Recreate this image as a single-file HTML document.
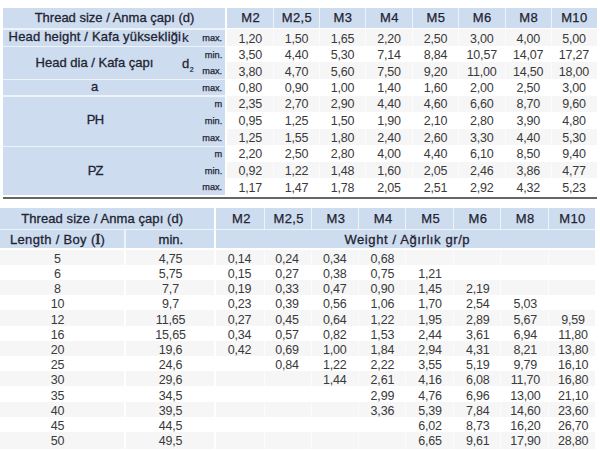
<!DOCTYPE html>
<html><head><meta charset="utf-8"><style>
*{margin:0;padding:0;box-sizing:border-box}
html,body{width:600px;height:450px;overflow:hidden;background:#fff}
body{position:relative;font-family:"Liberation Sans",sans-serif}
.b{position:absolute}
.t{position:absolute;white-space:nowrap;line-height:0;height:0;transform:translateY(-0.3465em)}
.lh{transform:translateY(calc(-0.3465em + 1px));font-size:13px;color:#1e2430;-webkit-text-stroke:0.3px #1e2430}
.kk{transform:translateY(calc(-0.3465em - 0.3px));font-size:13.5px;-webkit-text-stroke:0.15px #1e2430;color:#1e2430}
.mh{letter-spacing:0.4px;-webkit-text-stroke:0.25px #1e2430}
.sm{font-size:9.2px;color:#1e2430;-webkit-text-stroke:0.25px #1e2430}
.dd{font-size:12.5px;color:#3a3a3a;letter-spacing:-0.2px}
.sub{font-size:7px;position:relative;top:4.3px;margin-left:0.5px;-webkit-text-stroke:0.2px #1e2430}
</style></head>
<body>
<div class="b" style="left:3px;top:8px;width:221.5px;height:186.6px;background:#eef3fa"></div>
<div class="b" style="left:3px;top:8px;width:221.5px;height:20.3px;background:#cedcf0"></div>
<div class="b" style="left:227px;top:8px;width:369.5px;height:19.8px;background:#cedcf0"></div>
<div class="b" style="left:273.0px;top:8px;width:1.0px;height:19.8px;background:#eef3fa"></div>
<div class="b" style="left:319.0px;top:8px;width:1.0px;height:19.8px;background:#eef3fa"></div>
<div class="b" style="left:365.0px;top:8px;width:1.0px;height:19.8px;background:#eef3fa"></div>
<div class="b" style="left:412.0px;top:8px;width:1.0px;height:19.8px;background:#eef3fa"></div>
<div class="b" style="left:458.0px;top:8px;width:1.0px;height:19.8px;background:#eef3fa"></div>
<div class="b" style="left:504.5px;top:8px;width:1.0px;height:19.8px;background:#eef3fa"></div>
<div class="b" style="left:550.8px;top:8px;width:1.0px;height:19.8px;background:#eef3fa"></div>
<div class="b" style="left:3px;top:29.5px;width:221.5px;height:16.0px;background:#cedcf0"></div>
<div class="b" style="left:3px;top:46.5px;width:221.5px;height:32.3px;background:#cedcf0"></div>
<div class="b" style="left:3px;top:79.8px;width:221.5px;height:15.7px;background:#cedcf0"></div>
<div class="b" style="left:3px;top:96.5px;width:221.5px;height:49.0px;background:#cedcf0"></div>
<div class="b" style="left:3px;top:146.7px;width:221.5px;height:47.9px;background:#cedcf0"></div>
<div class="b" style="left:227px;top:29.3px;width:369.5px;height:16.55px;background:#f6f6f6"></div>
<div class="b" style="left:273.0px;top:29.3px;width:1.0px;height:16.55px;background:#fcfcfc"></div>
<div class="b" style="left:319.0px;top:29.3px;width:1.0px;height:16.55px;background:#fcfcfc"></div>
<div class="b" style="left:365.0px;top:29.3px;width:1.0px;height:16.55px;background:#fcfcfc"></div>
<div class="b" style="left:412.0px;top:29.3px;width:1.0px;height:16.55px;background:#fcfcfc"></div>
<div class="b" style="left:458.0px;top:29.3px;width:1.0px;height:16.55px;background:#fcfcfc"></div>
<div class="b" style="left:504.5px;top:29.3px;width:1.0px;height:16.55px;background:#fcfcfc"></div>
<div class="b" style="left:550.8px;top:29.3px;width:1.0px;height:16.55px;background:#fcfcfc"></div>
<div class="b" style="left:227px;top:62.4px;width:369.5px;height:16.55px;background:#f6f6f6"></div>
<div class="b" style="left:273.0px;top:62.4px;width:1.0px;height:16.55px;background:#fcfcfc"></div>
<div class="b" style="left:319.0px;top:62.4px;width:1.0px;height:16.55px;background:#fcfcfc"></div>
<div class="b" style="left:365.0px;top:62.4px;width:1.0px;height:16.55px;background:#fcfcfc"></div>
<div class="b" style="left:412.0px;top:62.4px;width:1.0px;height:16.55px;background:#fcfcfc"></div>
<div class="b" style="left:458.0px;top:62.4px;width:1.0px;height:16.55px;background:#fcfcfc"></div>
<div class="b" style="left:504.5px;top:62.4px;width:1.0px;height:16.55px;background:#fcfcfc"></div>
<div class="b" style="left:550.8px;top:62.4px;width:1.0px;height:16.55px;background:#fcfcfc"></div>
<div class="b" style="left:227px;top:95.5px;width:369.5px;height:16.55px;background:#f6f6f6"></div>
<div class="b" style="left:273.0px;top:95.5px;width:1.0px;height:16.55px;background:#fcfcfc"></div>
<div class="b" style="left:319.0px;top:95.5px;width:1.0px;height:16.55px;background:#fcfcfc"></div>
<div class="b" style="left:365.0px;top:95.5px;width:1.0px;height:16.55px;background:#fcfcfc"></div>
<div class="b" style="left:412.0px;top:95.5px;width:1.0px;height:16.55px;background:#fcfcfc"></div>
<div class="b" style="left:458.0px;top:95.5px;width:1.0px;height:16.55px;background:#fcfcfc"></div>
<div class="b" style="left:504.5px;top:95.5px;width:1.0px;height:16.55px;background:#fcfcfc"></div>
<div class="b" style="left:550.8px;top:95.5px;width:1.0px;height:16.55px;background:#fcfcfc"></div>
<div class="b" style="left:227px;top:128.6px;width:369.5px;height:16.55px;background:#f6f6f6"></div>
<div class="b" style="left:273.0px;top:128.6px;width:1.0px;height:16.55px;background:#fcfcfc"></div>
<div class="b" style="left:319.0px;top:128.6px;width:1.0px;height:16.55px;background:#fcfcfc"></div>
<div class="b" style="left:365.0px;top:128.6px;width:1.0px;height:16.55px;background:#fcfcfc"></div>
<div class="b" style="left:412.0px;top:128.6px;width:1.0px;height:16.55px;background:#fcfcfc"></div>
<div class="b" style="left:458.0px;top:128.6px;width:1.0px;height:16.55px;background:#fcfcfc"></div>
<div class="b" style="left:504.5px;top:128.6px;width:1.0px;height:16.55px;background:#fcfcfc"></div>
<div class="b" style="left:550.8px;top:128.6px;width:1.0px;height:16.55px;background:#fcfcfc"></div>
<div class="b" style="left:227px;top:161.7px;width:369.5px;height:16.55px;background:#f6f6f6"></div>
<div class="b" style="left:273.0px;top:161.7px;width:1.0px;height:16.55px;background:#fcfcfc"></div>
<div class="b" style="left:319.0px;top:161.7px;width:1.0px;height:16.55px;background:#fcfcfc"></div>
<div class="b" style="left:365.0px;top:161.7px;width:1.0px;height:16.55px;background:#fcfcfc"></div>
<div class="b" style="left:412.0px;top:161.7px;width:1.0px;height:16.55px;background:#fcfcfc"></div>
<div class="b" style="left:458.0px;top:161.7px;width:1.0px;height:16.55px;background:#fcfcfc"></div>
<div class="b" style="left:504.5px;top:161.7px;width:1.0px;height:16.55px;background:#fcfcfc"></div>
<div class="b" style="left:550.8px;top:161.7px;width:1.0px;height:16.55px;background:#fcfcfc"></div>
<div class="b" style="left:3px;top:197.1px;width:594px;height:1.8px;background:#666666"></div>
<div class="b" style="left:0px;top:207.6px;width:214px;height:40.8px;background:#eef3fa"></div>
<div class="b" style="left:216.4px;top:207.6px;width:378.6px;height:40.8px;background:#eef3fa"></div>
<div class="b" style="left:0px;top:207.6px;width:214px;height:21.0px;background:#cedcf0"></div>
<div class="b" style="left:216.4px;top:207.6px;width:378.6px;height:21.0px;background:#cedcf0"></div>
<div class="b" style="left:263.5px;top:207.6px;width:1.0px;height:21.0px;background:#eef3fa"></div>
<div class="b" style="left:311.0px;top:207.6px;width:1.0px;height:21.0px;background:#eef3fa"></div>
<div class="b" style="left:358.0px;top:207.6px;width:1.0px;height:21.0px;background:#eef3fa"></div>
<div class="b" style="left:405.0px;top:207.6px;width:1.0px;height:21.0px;background:#eef3fa"></div>
<div class="b" style="left:452.5px;top:207.6px;width:1.0px;height:21.0px;background:#eef3fa"></div>
<div class="b" style="left:499.8px;top:207.6px;width:1.0px;height:21.0px;background:#eef3fa"></div>
<div class="b" style="left:547.5px;top:207.6px;width:1.0px;height:21.0px;background:#eef3fa"></div>
<div class="b" style="left:0px;top:230.4px;width:124px;height:18.0px;background:#cedcf0"></div>
<div class="b" style="left:125.7px;top:230.4px;width:88.3px;height:18.0px;background:#cedcf0"></div>
<div class="b" style="left:216.4px;top:230.4px;width:378.6px;height:18.0px;background:#cedcf0"></div>
<div class="b" style="left:0px;top:249.6px;width:124px;height:15.2px;background:#f6f6f6"></div>
<div class="b" style="left:125.7px;top:249.6px;width:88.3px;height:15.2px;background:#f6f6f6"></div>
<div class="b" style="left:216.4px;top:249.6px;width:378.6px;height:15.2px;background:#f6f6f6"></div>
<div class="b" style="left:263.5px;top:249.6px;width:1.0px;height:15.2px;background:#fcfcfc"></div>
<div class="b" style="left:311.0px;top:249.6px;width:1.0px;height:15.2px;background:#fcfcfc"></div>
<div class="b" style="left:358.0px;top:249.6px;width:1.0px;height:15.2px;background:#fcfcfc"></div>
<div class="b" style="left:405.0px;top:249.6px;width:1.0px;height:15.2px;background:#fcfcfc"></div>
<div class="b" style="left:452.5px;top:249.6px;width:1.0px;height:15.2px;background:#fcfcfc"></div>
<div class="b" style="left:499.8px;top:249.6px;width:1.0px;height:15.2px;background:#fcfcfc"></div>
<div class="b" style="left:547.5px;top:249.6px;width:1.0px;height:15.2px;background:#fcfcfc"></div>
<div class="b" style="left:0px;top:280.0px;width:124px;height:15.2px;background:#f6f6f6"></div>
<div class="b" style="left:125.7px;top:280.0px;width:88.3px;height:15.2px;background:#f6f6f6"></div>
<div class="b" style="left:216.4px;top:280.0px;width:378.6px;height:15.2px;background:#f6f6f6"></div>
<div class="b" style="left:263.5px;top:280.0px;width:1.0px;height:15.2px;background:#fcfcfc"></div>
<div class="b" style="left:311.0px;top:280.0px;width:1.0px;height:15.2px;background:#fcfcfc"></div>
<div class="b" style="left:358.0px;top:280.0px;width:1.0px;height:15.2px;background:#fcfcfc"></div>
<div class="b" style="left:405.0px;top:280.0px;width:1.0px;height:15.2px;background:#fcfcfc"></div>
<div class="b" style="left:452.5px;top:280.0px;width:1.0px;height:15.2px;background:#fcfcfc"></div>
<div class="b" style="left:499.8px;top:280.0px;width:1.0px;height:15.2px;background:#fcfcfc"></div>
<div class="b" style="left:547.5px;top:280.0px;width:1.0px;height:15.2px;background:#fcfcfc"></div>
<div class="b" style="left:0px;top:310.4px;width:124px;height:15.2px;background:#f6f6f6"></div>
<div class="b" style="left:125.7px;top:310.4px;width:88.3px;height:15.2px;background:#f6f6f6"></div>
<div class="b" style="left:216.4px;top:310.4px;width:378.6px;height:15.2px;background:#f6f6f6"></div>
<div class="b" style="left:263.5px;top:310.4px;width:1.0px;height:15.2px;background:#fcfcfc"></div>
<div class="b" style="left:311.0px;top:310.4px;width:1.0px;height:15.2px;background:#fcfcfc"></div>
<div class="b" style="left:358.0px;top:310.4px;width:1.0px;height:15.2px;background:#fcfcfc"></div>
<div class="b" style="left:405.0px;top:310.4px;width:1.0px;height:15.2px;background:#fcfcfc"></div>
<div class="b" style="left:452.5px;top:310.4px;width:1.0px;height:15.2px;background:#fcfcfc"></div>
<div class="b" style="left:499.8px;top:310.4px;width:1.0px;height:15.2px;background:#fcfcfc"></div>
<div class="b" style="left:547.5px;top:310.4px;width:1.0px;height:15.2px;background:#fcfcfc"></div>
<div class="b" style="left:0px;top:340.8px;width:124px;height:15.2px;background:#f6f6f6"></div>
<div class="b" style="left:125.7px;top:340.8px;width:88.3px;height:15.2px;background:#f6f6f6"></div>
<div class="b" style="left:216.4px;top:340.8px;width:378.6px;height:15.2px;background:#f6f6f6"></div>
<div class="b" style="left:263.5px;top:340.8px;width:1.0px;height:15.2px;background:#fcfcfc"></div>
<div class="b" style="left:311.0px;top:340.8px;width:1.0px;height:15.2px;background:#fcfcfc"></div>
<div class="b" style="left:358.0px;top:340.8px;width:1.0px;height:15.2px;background:#fcfcfc"></div>
<div class="b" style="left:405.0px;top:340.8px;width:1.0px;height:15.2px;background:#fcfcfc"></div>
<div class="b" style="left:452.5px;top:340.8px;width:1.0px;height:15.2px;background:#fcfcfc"></div>
<div class="b" style="left:499.8px;top:340.8px;width:1.0px;height:15.2px;background:#fcfcfc"></div>
<div class="b" style="left:547.5px;top:340.8px;width:1.0px;height:15.2px;background:#fcfcfc"></div>
<div class="b" style="left:0px;top:371.2px;width:124px;height:15.2px;background:#f6f6f6"></div>
<div class="b" style="left:125.7px;top:371.2px;width:88.3px;height:15.2px;background:#f6f6f6"></div>
<div class="b" style="left:216.4px;top:371.2px;width:378.6px;height:15.2px;background:#f6f6f6"></div>
<div class="b" style="left:263.5px;top:371.2px;width:1.0px;height:15.2px;background:#fcfcfc"></div>
<div class="b" style="left:311.0px;top:371.2px;width:1.0px;height:15.2px;background:#fcfcfc"></div>
<div class="b" style="left:358.0px;top:371.2px;width:1.0px;height:15.2px;background:#fcfcfc"></div>
<div class="b" style="left:405.0px;top:371.2px;width:1.0px;height:15.2px;background:#fcfcfc"></div>
<div class="b" style="left:452.5px;top:371.2px;width:1.0px;height:15.2px;background:#fcfcfc"></div>
<div class="b" style="left:499.8px;top:371.2px;width:1.0px;height:15.2px;background:#fcfcfc"></div>
<div class="b" style="left:547.5px;top:371.2px;width:1.0px;height:15.2px;background:#fcfcfc"></div>
<div class="b" style="left:0px;top:401.6px;width:124px;height:15.2px;background:#f6f6f6"></div>
<div class="b" style="left:125.7px;top:401.6px;width:88.3px;height:15.2px;background:#f6f6f6"></div>
<div class="b" style="left:216.4px;top:401.6px;width:378.6px;height:15.2px;background:#f6f6f6"></div>
<div class="b" style="left:263.5px;top:401.6px;width:1.0px;height:15.2px;background:#fcfcfc"></div>
<div class="b" style="left:311.0px;top:401.6px;width:1.0px;height:15.2px;background:#fcfcfc"></div>
<div class="b" style="left:358.0px;top:401.6px;width:1.0px;height:15.2px;background:#fcfcfc"></div>
<div class="b" style="left:405.0px;top:401.6px;width:1.0px;height:15.2px;background:#fcfcfc"></div>
<div class="b" style="left:452.5px;top:401.6px;width:1.0px;height:15.2px;background:#fcfcfc"></div>
<div class="b" style="left:499.8px;top:401.6px;width:1.0px;height:15.2px;background:#fcfcfc"></div>
<div class="b" style="left:547.5px;top:401.6px;width:1.0px;height:15.2px;background:#fcfcfc"></div>
<div class="b" style="left:0px;top:432.0px;width:124px;height:17.0px;background:#f6f6f6"></div>
<div class="b" style="left:125.7px;top:432.0px;width:88.3px;height:17.0px;background:#f6f6f6"></div>
<div class="b" style="left:216.4px;top:432.0px;width:378.6px;height:17.0px;background:#f6f6f6"></div>
<div class="b" style="left:263.5px;top:432.0px;width:1.0px;height:17.0px;background:#fcfcfc"></div>
<div class="b" style="left:311.0px;top:432.0px;width:1.0px;height:17.0px;background:#fcfcfc"></div>
<div class="b" style="left:358.0px;top:432.0px;width:1.0px;height:17.0px;background:#fcfcfc"></div>
<div class="b" style="left:405.0px;top:432.0px;width:1.0px;height:17.0px;background:#fcfcfc"></div>
<div class="b" style="left:452.5px;top:432.0px;width:1.0px;height:17.0px;background:#fcfcfc"></div>
<div class="b" style="left:499.8px;top:432.0px;width:1.0px;height:17.0px;background:#fcfcfc"></div>
<div class="b" style="left:547.5px;top:432.0px;width:1.0px;height:17.0px;background:#fcfcfc"></div>
<div class="t lh" style="left:14.5px;width:200px;top:22px;text-align:center">Thread size / Anma çapı (d)</div>
<div class="t lh mh" style="left:150.75px;width:200px;top:22.2px;text-align:center">M2</div>
<div class="t lh mh" style="left:197.0px;width:200px;top:22.2px;text-align:center">M2,5</div>
<div class="t lh mh" style="left:243.0px;width:200px;top:22.2px;text-align:center">M3</div>
<div class="t lh mh" style="left:289.5px;width:200px;top:22.2px;text-align:center">M4</div>
<div class="t lh mh" style="left:336.0px;width:200px;top:22.2px;text-align:center">M5</div>
<div class="t lh mh" style="left:382.25px;width:200px;top:22.2px;text-align:center">M6</div>
<div class="t lh mh" style="left:428.65px;width:200px;top:22.2px;text-align:center">M8</div>
<div class="t lh mh" style="left:474.4px;width:200px;top:22.2px;text-align:center">M10</div>
<div class="t lh" style="left:8.6px;top:41px"><span style="letter-spacing:0.17px">Head height / Kafa yüksekliği</span></div>
<div class="t kk" style="left:182.0px;top:42.6px">k</div>
<div class="t lh" style="left:182px;top:67.5px">d<span class="sub">2</span></div>
<div class="t lh" style="left:-5.5px;width:200px;top:67px;text-align:center">Head dia / Kafa çapı</div>
<div class="t lh" style="left:-5.5px;width:200px;top:91px;text-align:center">a</div>
<div class="t lh" style="left:-5.0px;width:200px;top:124px;text-align:center"><span style="letter-spacing:-0.9px">PH</span></div>
<div class="t lh" style="left:-4.900000000000006px;width:200px;top:174.6px;text-align:center"><span style="letter-spacing:-0.9px">PZ</span></div>
<div class="t sm" style="left:22.19999999999999px;width:200px;top:41.2px;text-align:right">max.</div>
<div class="t sm" style="left:22.19999999999999px;width:200px;top:57.9px;text-align:right">min.</div>
<div class="t sm" style="left:22.19999999999999px;width:200px;top:74.3px;text-align:right">max.</div>
<div class="t sm" style="left:22.19999999999999px;width:200px;top:90.5px;text-align:right">max.</div>
<div class="t sm" style="left:22.19999999999999px;width:200px;top:107.0px;text-align:right">m</div>
<div class="t sm" style="left:22.19999999999999px;width:200px;top:123.9px;text-align:right">min.</div>
<div class="t sm" style="left:22.19999999999999px;width:200px;top:140.5px;text-align:right">max.</div>
<div class="t sm" style="left:22.19999999999999px;width:200px;top:157.1px;text-align:right">m</div>
<div class="t sm" style="left:22.19999999999999px;width:200px;top:173.7px;text-align:right">min.</div>
<div class="t sm" style="left:22.19999999999999px;width:200px;top:190.2px;text-align:right">max.</div>
<div class="t dd" style="left:150.25px;width:200px;top:42.5px;text-align:center">1,20</div>
<div class="t dd" style="left:196.5px;width:200px;top:42.5px;text-align:center">1,50</div>
<div class="t dd" style="left:242.5px;width:200px;top:42.5px;text-align:center">1,65</div>
<div class="t dd" style="left:289.0px;width:200px;top:42.5px;text-align:center">2,20</div>
<div class="t dd" style="left:335.5px;width:200px;top:42.5px;text-align:center">2,50</div>
<div class="t dd" style="left:381.75px;width:200px;top:42.5px;text-align:center">3,00</div>
<div class="t dd" style="left:428.15px;width:200px;top:42.5px;text-align:center">4,00</div>
<div class="t dd" style="left:473.9px;width:200px;top:42.5px;text-align:center">5,00</div>
<div class="t dd" style="left:150.25px;width:200px;top:59.2px;text-align:center">3,50</div>
<div class="t dd" style="left:196.5px;width:200px;top:59.2px;text-align:center">4,40</div>
<div class="t dd" style="left:242.5px;width:200px;top:59.2px;text-align:center">5,30</div>
<div class="t dd" style="left:289.0px;width:200px;top:59.2px;text-align:center">7,14</div>
<div class="t dd" style="left:335.5px;width:200px;top:59.2px;text-align:center">8,84</div>
<div class="t dd" style="left:381.75px;width:200px;top:59.2px;text-align:center">10,57</div>
<div class="t dd" style="left:428.15px;width:200px;top:59.2px;text-align:center">14,07</div>
<div class="t dd" style="left:473.9px;width:200px;top:59.2px;text-align:center">17,27</div>
<div class="t dd" style="left:150.25px;width:200px;top:75.6px;text-align:center">3,80</div>
<div class="t dd" style="left:196.5px;width:200px;top:75.6px;text-align:center">4,70</div>
<div class="t dd" style="left:242.5px;width:200px;top:75.6px;text-align:center">5,60</div>
<div class="t dd" style="left:289.0px;width:200px;top:75.6px;text-align:center">7,50</div>
<div class="t dd" style="left:335.5px;width:200px;top:75.6px;text-align:center">9,20</div>
<div class="t dd" style="left:381.75px;width:200px;top:75.6px;text-align:center">11,00</div>
<div class="t dd" style="left:428.15px;width:200px;top:75.6px;text-align:center">14,50</div>
<div class="t dd" style="left:473.9px;width:200px;top:75.6px;text-align:center">18,00</div>
<div class="t dd" style="left:150.25px;width:200px;top:91.8px;text-align:center">0,80</div>
<div class="t dd" style="left:196.5px;width:200px;top:91.8px;text-align:center">0,90</div>
<div class="t dd" style="left:242.5px;width:200px;top:91.8px;text-align:center">1,00</div>
<div class="t dd" style="left:289.0px;width:200px;top:91.8px;text-align:center">1,40</div>
<div class="t dd" style="left:335.5px;width:200px;top:91.8px;text-align:center">1,60</div>
<div class="t dd" style="left:381.75px;width:200px;top:91.8px;text-align:center">2,00</div>
<div class="t dd" style="left:428.15px;width:200px;top:91.8px;text-align:center">2,50</div>
<div class="t dd" style="left:473.9px;width:200px;top:91.8px;text-align:center">3,00</div>
<div class="t dd" style="left:150.25px;width:200px;top:108.3px;text-align:center">2,35</div>
<div class="t dd" style="left:196.5px;width:200px;top:108.3px;text-align:center">2,70</div>
<div class="t dd" style="left:242.5px;width:200px;top:108.3px;text-align:center">2,90</div>
<div class="t dd" style="left:289.0px;width:200px;top:108.3px;text-align:center">4,40</div>
<div class="t dd" style="left:335.5px;width:200px;top:108.3px;text-align:center">4,60</div>
<div class="t dd" style="left:381.75px;width:200px;top:108.3px;text-align:center">6,60</div>
<div class="t dd" style="left:428.15px;width:200px;top:108.3px;text-align:center">8,70</div>
<div class="t dd" style="left:473.9px;width:200px;top:108.3px;text-align:center">9,60</div>
<div class="t dd" style="left:150.25px;width:200px;top:125.2px;text-align:center">0,95</div>
<div class="t dd" style="left:196.5px;width:200px;top:125.2px;text-align:center">1,25</div>
<div class="t dd" style="left:242.5px;width:200px;top:125.2px;text-align:center">1,50</div>
<div class="t dd" style="left:289.0px;width:200px;top:125.2px;text-align:center">1,90</div>
<div class="t dd" style="left:335.5px;width:200px;top:125.2px;text-align:center">2,10</div>
<div class="t dd" style="left:381.75px;width:200px;top:125.2px;text-align:center">2,80</div>
<div class="t dd" style="left:428.15px;width:200px;top:125.2px;text-align:center">3,90</div>
<div class="t dd" style="left:473.9px;width:200px;top:125.2px;text-align:center">4,80</div>
<div class="t dd" style="left:150.25px;width:200px;top:141.8px;text-align:center">1,25</div>
<div class="t dd" style="left:196.5px;width:200px;top:141.8px;text-align:center">1,55</div>
<div class="t dd" style="left:242.5px;width:200px;top:141.8px;text-align:center">1,80</div>
<div class="t dd" style="left:289.0px;width:200px;top:141.8px;text-align:center">2,40</div>
<div class="t dd" style="left:335.5px;width:200px;top:141.8px;text-align:center">2,60</div>
<div class="t dd" style="left:381.75px;width:200px;top:141.8px;text-align:center">3,30</div>
<div class="t dd" style="left:428.15px;width:200px;top:141.8px;text-align:center">4,40</div>
<div class="t dd" style="left:473.9px;width:200px;top:141.8px;text-align:center">5,30</div>
<div class="t dd" style="left:150.25px;width:200px;top:158.4px;text-align:center">2,20</div>
<div class="t dd" style="left:196.5px;width:200px;top:158.4px;text-align:center">2,50</div>
<div class="t dd" style="left:242.5px;width:200px;top:158.4px;text-align:center">2,80</div>
<div class="t dd" style="left:289.0px;width:200px;top:158.4px;text-align:center">4,00</div>
<div class="t dd" style="left:335.5px;width:200px;top:158.4px;text-align:center">4,40</div>
<div class="t dd" style="left:381.75px;width:200px;top:158.4px;text-align:center">6,10</div>
<div class="t dd" style="left:428.15px;width:200px;top:158.4px;text-align:center">8,50</div>
<div class="t dd" style="left:473.9px;width:200px;top:158.4px;text-align:center">9,40</div>
<div class="t dd" style="left:150.25px;width:200px;top:175px;text-align:center">0,92</div>
<div class="t dd" style="left:196.5px;width:200px;top:175px;text-align:center">1,22</div>
<div class="t dd" style="left:242.5px;width:200px;top:175px;text-align:center">1,48</div>
<div class="t dd" style="left:289.0px;width:200px;top:175px;text-align:center">1,60</div>
<div class="t dd" style="left:335.5px;width:200px;top:175px;text-align:center">2,05</div>
<div class="t dd" style="left:381.75px;width:200px;top:175px;text-align:center">2,46</div>
<div class="t dd" style="left:428.15px;width:200px;top:175px;text-align:center">3,86</div>
<div class="t dd" style="left:473.9px;width:200px;top:175px;text-align:center">4,77</div>
<div class="t dd" style="left:150.25px;width:200px;top:191.5px;text-align:center">1,17</div>
<div class="t dd" style="left:196.5px;width:200px;top:191.5px;text-align:center">1,47</div>
<div class="t dd" style="left:242.5px;width:200px;top:191.5px;text-align:center">1,78</div>
<div class="t dd" style="left:289.0px;width:200px;top:191.5px;text-align:center">2,05</div>
<div class="t dd" style="left:335.5px;width:200px;top:191.5px;text-align:center">2,51</div>
<div class="t dd" style="left:381.75px;width:200px;top:191.5px;text-align:center">2,92</div>
<div class="t dd" style="left:428.15px;width:200px;top:191.5px;text-align:center">4,32</div>
<div class="t dd" style="left:473.9px;width:200px;top:191.5px;text-align:center">5,23</div>
<div class="t lh" style="left:2.200000000000003px;width:200px;top:223.3px;text-align:center"><span style="letter-spacing:0.09px">Thread size / Anma çapı (d)</span></div>
<div class="t lh mh" style="left:141.4px;width:200px;top:223.3px;text-align:center">M2</div>
<div class="t lh mh" style="left:188.7px;width:200px;top:223.3px;text-align:center">M2,5</div>
<div class="t lh mh" style="left:236.0px;width:200px;top:223.3px;text-align:center">M3</div>
<div class="t lh mh" style="left:283.3px;width:200px;top:223.3px;text-align:center">M4</div>
<div class="t lh mh" style="left:330.6px;width:200px;top:223.3px;text-align:center">M5</div>
<div class="t lh mh" style="left:377.9px;width:200px;top:223.3px;text-align:center">M6</div>
<div class="t lh mh" style="left:425.20000000000005px;width:200px;top:223.3px;text-align:center">M8</div>
<div class="t lh mh" style="left:472.5px;width:200px;top:223.3px;text-align:center">M10</div>
<div class="t lh" style="left:-42.4px;width:200px;top:244.2px;text-align:center"><span style="letter-spacing:0.33px">Length / Boy (<span style="font-family:'Liberation Serif';font-size:14px;-webkit-text-stroke:0.7px">I</span>)</span></div>
<div class="t lh" style="left:70.9px;width:200px;top:244.2px;text-align:center">min.</div>
<div class="t lh" style="left:307.3px;width:200px;top:243.8px;text-align:center"><span style="letter-spacing:0.6px">Weight / Ağırlık gr/p</span></div>
<div class="t dd" style="left:-42.6px;width:200px;top:262.8px;text-align:center">5</div>
<div class="t dd" style="left:70.5px;width:200px;top:262.8px;text-align:center">4,75</div>
<div class="t dd" style="left:139.4px;width:200px;top:262.8px;text-align:center">0,14</div>
<div class="t dd" style="left:187.06px;width:200px;top:262.8px;text-align:center">0,24</div>
<div class="t dd" style="left:234.72000000000003px;width:200px;top:262.8px;text-align:center">0,34</div>
<div class="t dd" style="left:282.38px;width:200px;top:262.8px;text-align:center">0,68</div>
<div class="t dd" style="left:-42.6px;width:200px;top:278.0px;text-align:center">6</div>
<div class="t dd" style="left:70.5px;width:200px;top:278.0px;text-align:center">5,75</div>
<div class="t dd" style="left:139.4px;width:200px;top:278.0px;text-align:center">0,15</div>
<div class="t dd" style="left:187.06px;width:200px;top:278.0px;text-align:center">0,27</div>
<div class="t dd" style="left:234.72000000000003px;width:200px;top:278.0px;text-align:center">0,38</div>
<div class="t dd" style="left:282.38px;width:200px;top:278.0px;text-align:center">0,75</div>
<div class="t dd" style="left:330.04px;width:200px;top:278.0px;text-align:center">1,21</div>
<div class="t dd" style="left:-42.6px;width:200px;top:293.2px;text-align:center">8</div>
<div class="t dd" style="left:70.5px;width:200px;top:293.2px;text-align:center">7,7</div>
<div class="t dd" style="left:139.4px;width:200px;top:293.2px;text-align:center">0,19</div>
<div class="t dd" style="left:187.06px;width:200px;top:293.2px;text-align:center">0,33</div>
<div class="t dd" style="left:234.72000000000003px;width:200px;top:293.2px;text-align:center">0,47</div>
<div class="t dd" style="left:282.38px;width:200px;top:293.2px;text-align:center">0,90</div>
<div class="t dd" style="left:330.04px;width:200px;top:293.2px;text-align:center">1,45</div>
<div class="t dd" style="left:377.7px;width:200px;top:293.2px;text-align:center">2,19</div>
<div class="t dd" style="left:-42.6px;width:200px;top:308.4px;text-align:center">10</div>
<div class="t dd" style="left:70.5px;width:200px;top:308.4px;text-align:center">9,7</div>
<div class="t dd" style="left:139.4px;width:200px;top:308.4px;text-align:center">0,23</div>
<div class="t dd" style="left:187.06px;width:200px;top:308.4px;text-align:center">0,39</div>
<div class="t dd" style="left:234.72000000000003px;width:200px;top:308.4px;text-align:center">0,56</div>
<div class="t dd" style="left:282.38px;width:200px;top:308.4px;text-align:center">1,06</div>
<div class="t dd" style="left:330.04px;width:200px;top:308.4px;text-align:center">1,70</div>
<div class="t dd" style="left:377.7px;width:200px;top:308.4px;text-align:center">2,54</div>
<div class="t dd" style="left:425.36px;width:200px;top:308.4px;text-align:center">5,03</div>
<div class="t dd" style="left:-42.6px;width:200px;top:323.6px;text-align:center">12</div>
<div class="t dd" style="left:70.5px;width:200px;top:323.6px;text-align:center">11,65</div>
<div class="t dd" style="left:139.4px;width:200px;top:323.6px;text-align:center">0,27</div>
<div class="t dd" style="left:187.06px;width:200px;top:323.6px;text-align:center">0,45</div>
<div class="t dd" style="left:234.72000000000003px;width:200px;top:323.6px;text-align:center">0,64</div>
<div class="t dd" style="left:282.38px;width:200px;top:323.6px;text-align:center">1,22</div>
<div class="t dd" style="left:330.04px;width:200px;top:323.6px;text-align:center">1,95</div>
<div class="t dd" style="left:377.7px;width:200px;top:323.6px;text-align:center">2,89</div>
<div class="t dd" style="left:425.36px;width:200px;top:323.6px;text-align:center">5,67</div>
<div class="t dd" style="left:473.02px;width:200px;top:323.6px;text-align:center">9,59</div>
<div class="t dd" style="left:-42.6px;width:200px;top:338.8px;text-align:center">16</div>
<div class="t dd" style="left:70.5px;width:200px;top:338.8px;text-align:center">15,65</div>
<div class="t dd" style="left:139.4px;width:200px;top:338.8px;text-align:center">0,34</div>
<div class="t dd" style="left:187.06px;width:200px;top:338.8px;text-align:center">0,57</div>
<div class="t dd" style="left:234.72000000000003px;width:200px;top:338.8px;text-align:center">0,82</div>
<div class="t dd" style="left:282.38px;width:200px;top:338.8px;text-align:center">1,53</div>
<div class="t dd" style="left:330.04px;width:200px;top:338.8px;text-align:center">2,44</div>
<div class="t dd" style="left:377.7px;width:200px;top:338.8px;text-align:center">3,61</div>
<div class="t dd" style="left:425.36px;width:200px;top:338.8px;text-align:center">6,94</div>
<div class="t dd" style="left:473.02px;width:200px;top:338.8px;text-align:center">11,80</div>
<div class="t dd" style="left:-42.6px;width:200px;top:354.0px;text-align:center">20</div>
<div class="t dd" style="left:70.5px;width:200px;top:354.0px;text-align:center">19,6</div>
<div class="t dd" style="left:139.4px;width:200px;top:354.0px;text-align:center">0,42</div>
<div class="t dd" style="left:187.06px;width:200px;top:354.0px;text-align:center">0,69</div>
<div class="t dd" style="left:234.72000000000003px;width:200px;top:354.0px;text-align:center">1,00</div>
<div class="t dd" style="left:282.38px;width:200px;top:354.0px;text-align:center">1,84</div>
<div class="t dd" style="left:330.04px;width:200px;top:354.0px;text-align:center">2,94</div>
<div class="t dd" style="left:377.7px;width:200px;top:354.0px;text-align:center">4,31</div>
<div class="t dd" style="left:425.36px;width:200px;top:354.0px;text-align:center">8,21</div>
<div class="t dd" style="left:473.02px;width:200px;top:354.0px;text-align:center">13,80</div>
<div class="t dd" style="left:-42.6px;width:200px;top:369.2px;text-align:center">25</div>
<div class="t dd" style="left:70.5px;width:200px;top:369.2px;text-align:center">24,6</div>
<div class="t dd" style="left:187.06px;width:200px;top:369.2px;text-align:center">0,84</div>
<div class="t dd" style="left:234.72000000000003px;width:200px;top:369.2px;text-align:center">1,22</div>
<div class="t dd" style="left:282.38px;width:200px;top:369.2px;text-align:center">2,22</div>
<div class="t dd" style="left:330.04px;width:200px;top:369.2px;text-align:center">3,55</div>
<div class="t dd" style="left:377.7px;width:200px;top:369.2px;text-align:center">5,19</div>
<div class="t dd" style="left:425.36px;width:200px;top:369.2px;text-align:center">9,79</div>
<div class="t dd" style="left:473.02px;width:200px;top:369.2px;text-align:center">16,10</div>
<div class="t dd" style="left:-42.6px;width:200px;top:384.4px;text-align:center">30</div>
<div class="t dd" style="left:70.5px;width:200px;top:384.4px;text-align:center">29,6</div>
<div class="t dd" style="left:234.72000000000003px;width:200px;top:384.4px;text-align:center">1,44</div>
<div class="t dd" style="left:282.38px;width:200px;top:384.4px;text-align:center">2,61</div>
<div class="t dd" style="left:330.04px;width:200px;top:384.4px;text-align:center">4,16</div>
<div class="t dd" style="left:377.7px;width:200px;top:384.4px;text-align:center">6,08</div>
<div class="t dd" style="left:425.36px;width:200px;top:384.4px;text-align:center">11,70</div>
<div class="t dd" style="left:473.02px;width:200px;top:384.4px;text-align:center">16,80</div>
<div class="t dd" style="left:-42.6px;width:200px;top:399.6px;text-align:center">35</div>
<div class="t dd" style="left:70.5px;width:200px;top:399.6px;text-align:center">34,5</div>
<div class="t dd" style="left:282.38px;width:200px;top:399.6px;text-align:center">2,99</div>
<div class="t dd" style="left:330.04px;width:200px;top:399.6px;text-align:center">4,76</div>
<div class="t dd" style="left:377.7px;width:200px;top:399.6px;text-align:center">6,96</div>
<div class="t dd" style="left:425.36px;width:200px;top:399.6px;text-align:center">13,00</div>
<div class="t dd" style="left:473.02px;width:200px;top:399.6px;text-align:center">21,10</div>
<div class="t dd" style="left:-42.6px;width:200px;top:414.8px;text-align:center">40</div>
<div class="t dd" style="left:70.5px;width:200px;top:414.8px;text-align:center">39,5</div>
<div class="t dd" style="left:282.38px;width:200px;top:414.8px;text-align:center">3,36</div>
<div class="t dd" style="left:330.04px;width:200px;top:414.8px;text-align:center">5,39</div>
<div class="t dd" style="left:377.7px;width:200px;top:414.8px;text-align:center">7,84</div>
<div class="t dd" style="left:425.36px;width:200px;top:414.8px;text-align:center">14,60</div>
<div class="t dd" style="left:473.02px;width:200px;top:414.8px;text-align:center">23,60</div>
<div class="t dd" style="left:-42.6px;width:200px;top:430.0px;text-align:center">45</div>
<div class="t dd" style="left:70.5px;width:200px;top:430.0px;text-align:center">44,5</div>
<div class="t dd" style="left:330.04px;width:200px;top:430.0px;text-align:center">6,02</div>
<div class="t dd" style="left:377.7px;width:200px;top:430.0px;text-align:center">8,73</div>
<div class="t dd" style="left:425.36px;width:200px;top:430.0px;text-align:center">16,20</div>
<div class="t dd" style="left:473.02px;width:200px;top:430.0px;text-align:center">26,70</div>
<div class="t dd" style="left:-42.6px;width:200px;top:445.2px;text-align:center">50</div>
<div class="t dd" style="left:70.5px;width:200px;top:445.2px;text-align:center">49,5</div>
<div class="t dd" style="left:330.04px;width:200px;top:445.2px;text-align:center">6,65</div>
<div class="t dd" style="left:377.7px;width:200px;top:445.2px;text-align:center">9,61</div>
<div class="t dd" style="left:425.36px;width:200px;top:445.2px;text-align:center">17,90</div>
<div class="t dd" style="left:473.02px;width:200px;top:445.2px;text-align:center">28,80</div>
</body></html>
